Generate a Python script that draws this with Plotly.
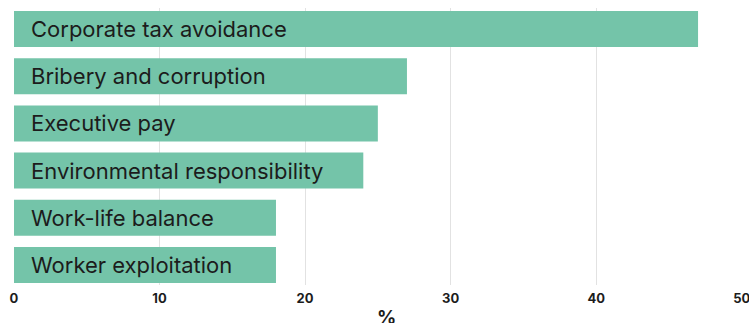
import plotly.graph_objects as go

categories = ["Corporate tax avoidance", "Bribery and corruption", "Executive pay",
              "Environmental responsibility", "Work-life balance", "Worker exploitation"]
values = [47, 27, 25, 24, 18, 18]
tick_vals = [0, 10, 20, 30, 40, 50]
tick_text = ["0", "10", "20", "30", "40", "50"]
axis_title = "%"

bar_color = "#74c4a9"
text_color = "#1c1c1c"

fig = go.Figure(go.Bar(
    x=values, y=categories, orientation="h",
    marker=dict(color=bar_color, line=dict(width=0)),
    hoverinfo="skip",
))

for c in categories:
    fig.add_annotation(x=0, y=c, xref="x", yref="y", text=c, showarrow=False,
                       xanchor="left", yanchor="middle", xshift=15,
                       font=dict(family="Inter", size=22, color=text_color))

fig.add_annotation(x=0.5, y=0, xref="paper", yref="paper", text=axis_title,
                   showarrow=False, xanchor="center", yanchor="middle", yshift=-32, xshift=8,
                   font=dict(family="Inter", size=19, color=text_color, weight="bold"))

fig.update_layout(
    width=749, height=323,
    margin=dict(l=14, r=7, t=8, b=38, autoexpand=False),
    paper_bgcolor="white", plot_bgcolor="white",
    bargap=0.237,
    showlegend=False,
    hovermode=False,
    xaxis=dict(range=[0, 50.02], tickvals=tick_vals, ticktext=tick_text,
               showgrid=True, gridcolor="#e2e2e2", gridwidth=1, zeroline=False,
               showline=False, ticks="", automargin=False, ticklabelstandoff=4,
               ticklabeloverflow="allow",
               tickfont=dict(family="Inter", size=13, color=text_color, weight="bold")),
    yaxis=dict(range=[5.424, -0.445], showticklabels=False, showgrid=False,
               zeroline=False, showline=False, ticks="", automargin=False),
)

fig.write_html("out.html", config={"displayModeBar": False},
               post_script="document.body.style.margin='0';document.body.style.overflow='hidden';")
